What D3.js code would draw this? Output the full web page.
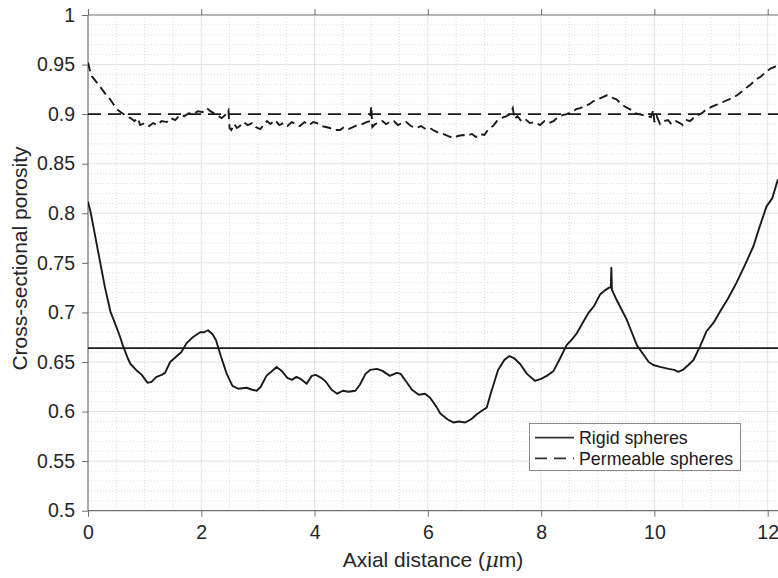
<!DOCTYPE html>
<html>
<head>
<meta charset="utf-8">
<script src="https://cdn.jsdelivr.net/npm/d3@7"></script>
<style>
  html, body { margin: 0; padding: 0; background: #fff; }
  svg { display: block; font-family: "Liberation Sans", Arial, Helvetica, sans-serif; }
</style>
</head>
<body>
<svg id="chart" width="778" height="578"></svg>
<script>
// ---- DATA ----
const seriesNames = ["Rigid spheres", "Permeable spheres"];
const xTicks = [0, 2, 4, 6, 8, 10, 12];
const yTicks = [0.5, 0.55, 0.6, 0.65, 0.7, 0.75, 0.8, 0.85, 0.9, 0.95, 1];
const yTickLabels = ["0.5", "0.55", "0.6", "0.65", "0.7", "0.75", "0.8", "0.85", "0.9", "0.95", "1"];
const rigidMean = 0.664;
const permeableMean = 0.9;

const rigidX = [0.00,0.05,0.10,0.20,0.30,0.40,0.45,0.55,0.62,0.70,0.75,0.85,0.95,1.05,1.12,1.21,1.30,1.36,1.45,1.55,1.65,1.74,1.85,1.98,2.05,2.12,2.20,2.26,2.35,2.45,2.55,2.65,2.80,2.90,2.98,3.05,3.15,3.25,3.33,3.42,3.52,3.60,3.68,3.75,3.86,3.95,4.02,4.12,4.20,4.30,4.40,4.50,4.60,4.72,4.80,4.90,4.98,5.10,5.20,5.33,5.45,5.52,5.62,5.72,5.84,5.95,6.04,6.15,6.22,6.35,6.45,6.55,6.66,6.76,6.86,6.96,7.04,7.12,7.24,7.35,7.44,7.52,7.63,7.75,7.89,8.00,8.10,8.22,8.32,8.45,8.55,8.63,8.73,8.83,8.93,9.04,9.12,9.20,9.23,9.24,9.25,9.33,9.42,9.51,9.60,9.69,9.80,9.90,9.98,10.10,10.25,10.35,10.42,10.50,10.60,10.69,10.80,10.92,11.05,11.16,11.30,11.45,11.60,11.75,11.85,11.98,12.08,12.18];
const rigidY = [0.812,0.800,0.785,0.755,0.725,0.700,0.693,0.678,0.666,0.654,0.648,0.642,0.637,0.629,0.630,0.635,0.637,0.639,0.650,0.655,0.660,0.669,0.675,0.680,0.680,0.682,0.678,0.672,0.655,0.638,0.626,0.623,0.624,0.622,0.621,0.625,0.636,0.641,0.645,0.641,0.634,0.632,0.635,0.633,0.628,0.636,0.637,0.634,0.630,0.622,0.618,0.621,0.620,0.621,0.627,0.638,0.642,0.643,0.641,0.636,0.639,0.638,0.630,0.622,0.617,0.618,0.614,0.605,0.598,0.592,0.589,0.590,0.589,0.592,0.597,0.601,0.604,0.620,0.642,0.652,0.656,0.654,0.648,0.638,0.631,0.633,0.636,0.641,0.652,0.667,0.673,0.679,0.689,0.699,0.706,0.718,0.722,0.725,0.725,0.745,0.723,0.713,0.703,0.693,0.680,0.667,0.658,0.650,0.647,0.645,0.643,0.642,0.640,0.642,0.647,0.652,0.665,0.681,0.690,0.701,0.714,0.730,0.748,0.767,0.785,0.807,0.815,0.834];

const permX = [0.00,0.03,0.07,0.14,0.21,0.30,0.39,0.45,0.51,0.58,0.68,0.75,0.82,0.88,0.92,1.00,1.08,1.15,1.22,1.30,1.39,1.46,1.54,1.62,1.70,1.78,1.86,1.94,2.02,2.10,2.16,2.22,2.30,2.36,2.42,2.48,2.50,2.53,2.58,2.63,2.68,2.75,2.82,2.90,2.96,3.04,3.10,3.16,3.22,3.30,3.38,3.45,3.52,3.60,3.67,3.74,3.82,3.90,3.98,4.04,4.12,4.20,4.27,4.35,4.45,4.52,4.60,4.68,4.76,4.84,4.92,4.98,5.00,5.02,5.07,5.12,5.20,5.26,5.33,5.40,5.47,5.55,5.62,5.70,5.80,5.88,5.96,6.04,6.12,6.20,6.27,6.35,6.45,6.53,6.62,6.69,6.78,6.85,6.92,7.00,7.07,7.15,7.22,7.30,7.39,7.45,7.50,7.53,7.58,7.65,7.72,7.80,7.88,7.98,8.06,8.14,8.22,8.30,8.38,8.45,8.54,8.62,8.69,8.77,8.85,8.92,9.00,9.08,9.16,9.22,9.28,9.33,9.40,9.47,9.53,9.60,9.66,9.72,9.80,9.88,9.94,9.98,10.00,10.04,10.10,10.17,10.24,10.30,10.38,10.45,10.50,10.57,10.63,10.69,10.76,10.84,10.92,11.00,11.08,11.16,11.24,11.32,11.39,11.46,11.55,11.63,11.70,11.80,11.88,11.98,12.05,12.13,12.18];
const permY = [0.952,0.945,0.938,0.933,0.928,0.921,0.915,0.910,0.905,0.902,0.898,0.896,0.893,0.896,0.889,0.891,0.888,0.891,0.889,0.893,0.892,0.896,0.894,0.899,0.898,0.901,0.900,0.903,0.902,0.906,0.903,0.901,0.898,0.896,0.899,0.904,0.886,0.884,0.890,0.886,0.888,0.892,0.889,0.891,0.887,0.885,0.889,0.893,0.890,0.894,0.889,0.891,0.888,0.892,0.890,0.888,0.892,0.889,0.892,0.891,0.888,0.887,0.886,0.884,0.884,0.887,0.885,0.887,0.889,0.890,0.892,0.893,0.908,0.887,0.890,0.891,0.893,0.890,0.892,0.893,0.889,0.891,0.892,0.888,0.886,0.888,0.885,0.886,0.883,0.881,0.880,0.878,0.876,0.878,0.879,0.878,0.880,0.877,0.880,0.879,0.885,0.888,0.893,0.896,0.898,0.900,0.906,0.895,0.898,0.893,0.895,0.891,0.892,0.889,0.893,0.891,0.893,0.897,0.899,0.900,0.902,0.905,0.906,0.908,0.910,0.913,0.915,0.917,0.919,0.918,0.916,0.915,0.911,0.908,0.906,0.904,0.901,0.900,0.899,0.898,0.897,0.904,0.892,0.898,0.890,0.893,0.894,0.890,0.893,0.891,0.889,0.894,0.893,0.896,0.899,0.901,0.905,0.907,0.909,0.911,0.913,0.915,0.917,0.919,0.923,0.927,0.930,0.935,0.938,0.943,0.946,0.948,0.950];

// ---- CHART ----
(function () {
const svg = d3.select("#chart");
const L = 88, R = 779, T = 15, B = 510.7;
const x = d3.scaleLinear().domain([0, 12.2]).range([L, R]);
const y = d3.scaleLinear().domain([0.5, 1]).range([B, T]);

svg.append("defs").append("clipPath").attr("id", "clip")
  .append("rect").attr("x", L).attr("y", T).attr("width", R - L).attr("height", B - T);

// minor grid
const g = svg.append("g");
const xMinor = d3.range(0.5, 12.2, 0.5).filter(v => Math.abs(v / 2 - Math.round(v / 2)) > 1e-6);
const yMinor = d3.range(51, 100).map(v => v / 100).filter(v => Math.round(v * 100) % 5 !== 0);
g.selectAll(".xminor").data(xMinor).join("line")
  .attr("x1", d => x(d)).attr("x2", d => x(d)).attr("y1", T).attr("y2", B)
  .attr("stroke", "#dcdcdc").attr("stroke-width", 1).attr("stroke-dasharray", "1,2");
g.selectAll(".yminor").data(yMinor).join("line")
  .attr("x1", L).attr("x2", R).attr("y1", d => y(d)).attr("y2", d => y(d))
  .attr("stroke", "#dcdcdc").attr("stroke-width", 1).attr("stroke-dasharray", "1,2");
// major grid
g.selectAll(".xmajor").data(xTicks.slice(1)).join("line")
  .attr("x1", d => x(d)).attr("x2", d => x(d)).attr("y1", T).attr("y2", B)
  .attr("stroke", "#e4e4e4").attr("stroke-width", 1);
g.selectAll(".ymajor").data(yTicks.slice(1, -1)).join("line")
  .attr("x1", L).attr("x2", R).attr("y1", d => y(d)).attr("y2", d => y(d))
  .attr("stroke", "#e4e4e4").attr("stroke-width", 1);

// axes
const axisColor = "#707070";
const xAxis = svg.append("g").attr("transform", `translate(0,${B})`)
  .call(d3.axisBottom(x).tickValues(xTicks).tickFormat(d3.format("d")).tickSize(6).tickPadding(8));
const xAxisTop = svg.append("g").attr("transform", `translate(0,${T})`)
  .call(d3.axisTop(x).tickValues(xTicks).tickFormat("").tickSize(6));
const yAxis = svg.append("g").attr("transform", `translate(${L},0)`)
  .call(d3.axisLeft(y).tickValues(yTicks).tickFormat((d, i) => yTickLabels[i]).tickSize(6).tickPadding(7));
[xAxis, xAxisTop, yAxis].forEach(a => {
  a.select(".domain").attr("stroke", axisColor).attr("stroke-width", 1.2);
  a.selectAll(".tick line").attr("stroke", axisColor);
  a.selectAll("text").attr("fill", "#262626").style("font-size", "19.5px")
    .style("font-family", "'Liberation Sans', Arial, sans-serif");
});
xAxis.select(".domain").attr("d", `M${L},0H${778}`);
xAxisTop.select(".domain").attr("d", `M${L},0H${778}`);
yAxis.select(".domain").attr("d", `M0,${T}V${B}`);

// axis labels
const xl = svg.append("text").attr("x", 433).attr("y", 567).attr("text-anchor", "middle")
  .attr("fill", "#262626").style("font-size", "21px");
xl.append("tspan").text("Axial distance (");
xl.append("tspan").style("font-family", "'DejaVu Serif', serif").style("font-style", "italic").text("μ");
xl.append("tspan").text("m)");
svg.append("text").attr("transform", "translate(27,258.5) rotate(-90)").attr("text-anchor", "middle")
  .attr("fill", "#262626").style("font-size", "21px").text("Cross-sectional porosity");

// lines
const plot = svg.append("g").attr("clip-path", "url(#clip)");
const line = d3.line().x(d => x(d[0])).y(d => y(d[1]));
const rigid = rigidX.map((v, i) => [v, rigidY[i]]);
const perm = permX.map((v, i) => [v, permY[i]]);
const lineColor = "#1a1a1a";
plot.append("line").attr("x1", L).attr("x2", R).attr("y1", y(rigidMean)).attr("y2", y(rigidMean))
  .attr("stroke", lineColor).attr("stroke-width", 1.9);
plot.append("line").attr("x1", L).attr("x2", R).attr("y1", y(permeableMean)).attr("y2", y(permeableMean))
  .attr("stroke", lineColor).attr("stroke-width", 1.9).attr("stroke-dasharray", "13,7");
plot.append("path").datum(rigid).attr("d", line).attr("fill", "none")
  .attr("stroke", lineColor).attr("stroke-width", 1.9).attr("stroke-linejoin", "round");
plot.append("path").datum(perm).attr("d", line).attr("fill", "none")
  .attr("stroke", lineColor).attr("stroke-width", 1.9).attr("stroke-dasharray", "9,5");

// legend
const lg = svg.append("g");
lg.append("rect").attr("x", 529.5).attr("y", 423.5).attr("width", 211).attr("height", 47)
  .attr("fill", "#fff").attr("stroke", "#8a8a8a").attr("stroke-width", 1);
const rows = [{ name: seriesNames[0], dash: null, yy: 437.7 }, { name: seriesNames[1], dash: "12,7", yy: 458.3 }];
rows.forEach(r => {
  const l = lg.append("line").attr("x1", 535).attr("x2", 574).attr("y1", r.yy).attr("y2", r.yy)
    .attr("stroke", "#333").attr("stroke-width", 1.8);
  if (r.dash) l.attr("stroke-dasharray", r.dash);
  lg.append("text").attr("x", 579).attr("y", r.yy).attr("dy", "0.35em")
    .attr("fill", "#1a1a1a").style("font-size", "17.8px").text(r.name);
});
})();
</script>
</body>
</html>
